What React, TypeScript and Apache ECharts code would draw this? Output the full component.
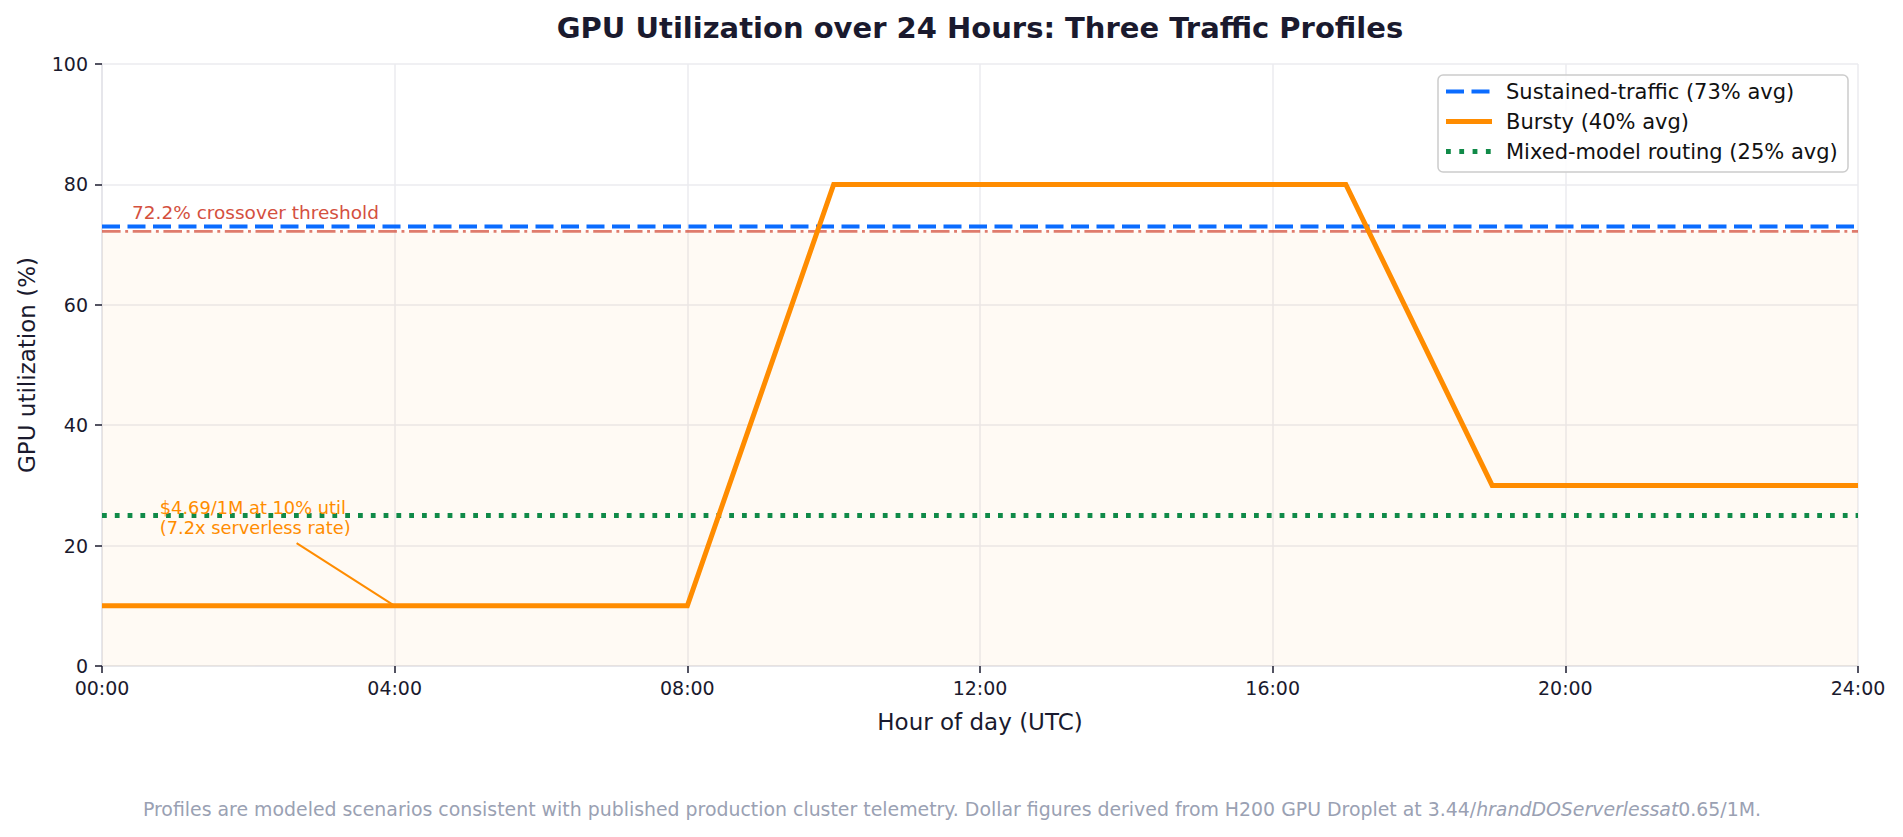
import { useEffect, useRef } from "react";
import * as echarts from "echarts";

// hours of the day (UTC) and utilisation in percent
const burstyHours = [0, 8, 10, 17, 19, 24];
const burstyUtil = [10, 10, 80, 80, 30, 30];
const flatHours = [0, 24];
const sustainedUtil = [73, 73];
const mixedUtil = [25, 25];
const crossover = 72.2;
const hourTicks = ["00:00", "04:00", "08:00", "12:00", "16:00", "20:00", "24:00"];

const seriesNames = [
  "Sustained-traffic (73% avg)",
  "Bursty (40% avg)",
  "Mixed-model routing (25% avg)",
];

const FONT = "DejaVu Sans";
const INK = "#1a1a2e";
const BLUE = "#0b6cff";
const ORANGE = "#ff8c00";
const GREEN = "#108a48";
const RED = "#d4503e";

export default function App() {
  const divRef = useRef<HTMLDivElement>(null);

  useEffect(() => {
    if (!divRef.current) return;
    const chart = echarts.init(divRef.current, null, { renderer: "svg" });

    const pairs = (xs: number[], ys: number[]) => xs.map((x, i) => [x, ys[i]]);

    chart.setOption({
      animation: false,
      textStyle: { fontFamily: FONT },
      grid: { left: 102, right: 45, top: 64, bottom: 171 },
      xAxis: {
        type: "value",
        min: 0,
        max: 24,
        interval: 4,
        name: "Hour of day (UTC)",
        nameLocation: "middle",
        nameGap: 44,
        nameTextStyle: { fontFamily: FONT, fontSize: 23, color: INK },
        axisLine: { lineStyle: { color: "#e3e3e8", width: 1.5 } },
        axisTick: { show: true, length: 7, lineStyle: { color: INK, width: 1.5 } },
        axisLabel: {
          fontFamily: FONT,
          fontSize: 19,
          color: INK,
          margin: 12,
          formatter: (v: number) => hourTicks[v / 4],
        },
        splitLine: { show: true, lineStyle: { color: "#ebebef", width: 1.5 } },
      },
      yAxis: {
        type: "value",
        min: 0,
        max: 100,
        interval: 20,
        name: "GPU utilization (%)",
        nameLocation: "middle",
        nameGap: 64,
        nameTextStyle: { fontFamily: FONT, fontSize: 23, color: INK },
        axisLine: { show: true, lineStyle: { color: "#e3e3e8", width: 1.5 } },
        axisTick: { show: true, length: 7, lineStyle: { color: INK, width: 1.5 } },
        axisLabel: { fontFamily: FONT, fontSize: 19, color: INK, margin: 14 },
        splitLine: { show: true, lineStyle: { color: "#ebebef", width: 1.5 } },
      },
      series: [
        {
          name: "threshold",
          type: "line",
          data: pairs(flatHours, [crossover, crossover]),
          symbol: "none",
          z: 1,
          lineStyle: {
            color: RED,
            opacity: 0.75,
            width: 2.9,
            type: [18.6, 4.6, 2.9, 4.6],
          },
          markArea: {
            silent: true,
            itemStyle: { color: "rgba(255,140,0,0.045)" },
            data: [[{ yAxis: 0, xAxis: 0 }, { yAxis: crossover, xAxis: 24 }]],
          },
        },
        {
          name: seriesNames[0],
          type: "line",
          data: pairs(flatHours, sustainedUtil),
          symbol: "none",
          color: BLUE,
          z: 3,
          lineStyle: { width: 4, type: [18, 7.5], cap: "butt" },
        },
        {
          name: seriesNames[1],
          type: "line",
          data: pairs(burstyHours, burstyUtil),
          symbol: "none",
          color: ORANGE,
          z: 4,
          lineStyle: { width: 5, join: "miter" },
        },
        {
          name: seriesNames[2],
          type: "line",
          data: pairs(flatHours, mixedUtil),
          symbol: "none",
          color: GREEN,
          z: 3,
          lineStyle: { width: 4.8, type: [4.8, 8], cap: "butt" },
        },
      ],
    });

    const px = (x: number, y: number) =>
      chart.convertToPixel({ xAxisIndex: 0, yAxisIndex: 0 }, [x, y]) as number[];
    const thrLabel = px(0.41, 73.7);
    const noteTop = px(0.79, 21.3);
    const arrowFrom = px(2.66, 20.4);
    const arrowTo = px(4, 10);

    // legend box drawn by hand so the dash patterns match the lines
    const legendRows = [91.5, 121.5, 151.5];
    const legendStyles = [
      { stroke: BLUE, lineWidth: 4, lineDash: [18, 7.5] },
      { stroke: ORANGE, lineWidth: 5 },
      { stroke: GREEN, lineWidth: 4.8, lineDash: [4.8, 8.5] },
    ];
    const legendItems: any[] = [
      {
        type: "rect",
        z: 20,
        shape: { x: 1438, y: 75, width: 410, height: 97, r: 5 },
        style: { fill: "rgba(255,255,255,0.85)", stroke: "#cccccc", lineWidth: 1.5 },
      },
    ];
    seriesNames.forEach((name, i) => {
      legendItems.push({
        type: "line",
        z: 21,
        shape: { x1: 1446, y1: legendRows[i], x2: 1492, y2: legendRows[i] },
        style: { ...legendStyles[i], lineCap: "butt" },
      });
      legendItems.push({
        type: "text",
        z: 21,
        x: 1506,
        y: legendRows[i],
        style: {
          text: name,
          fontFamily: FONT,
          fontSize: 21,
          fill: "#111",
          textAlign: "left",
          textVerticalAlign: "middle",
        },
      });
    });

    chart.setOption({
      graphic: [
        {
          type: "text",
          x: 980,
          y: 28,
          style: {
            text: "GPU Utilization over 24 Hours: Three Traffic Profiles",
            fontFamily: FONT,
            fontSize: 29,
            fontWeight: "bold",
            fill: INK,
            textAlign: "center",
            textVerticalAlign: "middle",
          },
        },
        {
          type: "text",
          x: thrLabel[0],
          y: thrLabel[1],
          z: 10,
          style: {
            text: "72.2% crossover threshold",
            fontFamily: FONT,
            fontSize: 18.5,
            fill: RED,
            textAlign: "left",
            textVerticalAlign: "bottom",
          },
        },
        {
          type: "text",
          x: noteTop[0],
          y: noteTop[1],
          z: 10,
          style: {
            text: "$4.69/1M at 10% util\n(7.2x serverless rate)",
            fontFamily: FONT,
            fontSize: 17.8,
            lineHeight: 20,
            fill: ORANGE,
            textAlign: "left",
            textVerticalAlign: "bottom",
          },
        },
        {
          type: "line",
          z: 10,
          shape: { x1: arrowFrom[0], y1: arrowFrom[1], x2: arrowTo[0], y2: arrowTo[1] },
          style: { stroke: ORANGE, lineWidth: 2 },
        },
        ...legendItems,
        {
          type: "text",
          x: 952,
          y: 809,
          style: {
            text:
              "Profiles are modeled scenarios consistent with published production cluster telemetry. Dollar figures derived from H200 GPU Droplet at 3.44/{it|hrandDOServerlessat}0.65/1M.",
            fontFamily: FONT,
            fontSize: 18.9,
            fill: "#9aa1b3",
            textAlign: "center",
            textVerticalAlign: "middle",
            rich: {
              it: { fontFamily: FONT, fontSize: 18.9, fontStyle: "italic", fill: "#9aa1b3" },
            },
          },
        },
      ],
    });

    const onResize = () => chart.resize();
    window.addEventListener("resize", onResize);
    return () => {
      window.removeEventListener("resize", onResize);
      chart.dispose();
    };
  }, []);

  return <div ref={divRef} style={{ width: 1903, height: 837, margin: -8 }} />;
}
